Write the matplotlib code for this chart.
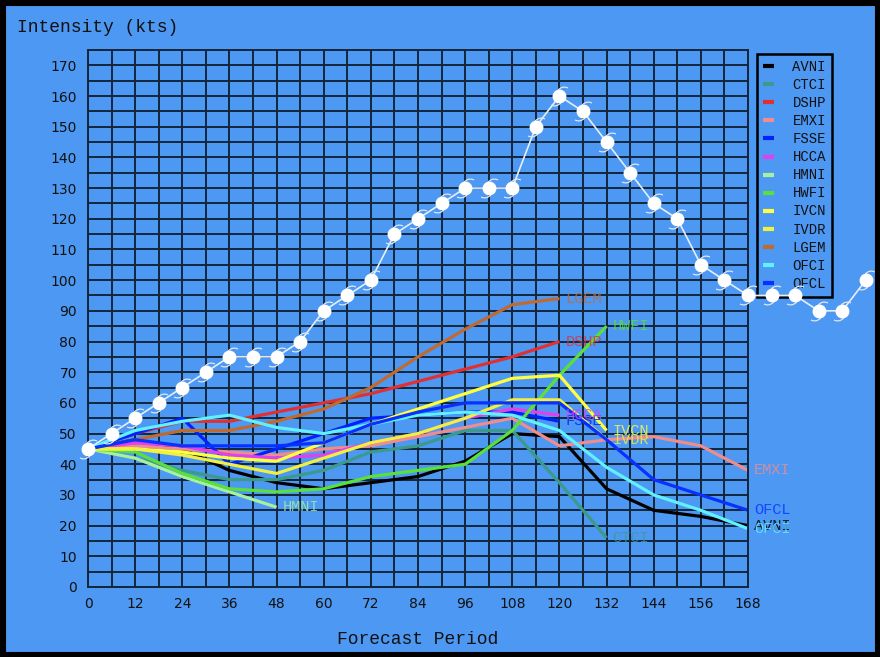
import matplotlib
matplotlib.use("Agg")
import matplotlib.pyplot as plt
from matplotlib.path import Path
from matplotlib.patches import Rectangle

# forecast hours for the model guidance (every 12 h)
hours = [0, 12, 24, 36, 48, 60, 72, 84, 96, 108, 120, 132, 144, 156, 168]

AVNI = [45, 48, 45, 38, 34, 32, 34, 36, 41, 50, 49, 32, 25, 23, 20]
CTCI = [45, 42, 38, 35, 35, 38, 44, 46, 51, 51, 34, 16]
DSHP = [45, 50, 54, 54, 57, 60, 63, 67, 71, 75, 80]
EMXI = [45, 46, 45, 44, 43, 45, 46, 49, 52, 55, 46, 48, 49, 46, 38]
FSSE = [45, 50, 55, 40, 45, 50, 55, 56, 57, 57, 54]
HCCA = [45, 47, 46, 43, 42, 43, 47, 50, 55, 58, 56]
HMNI = [45, 42, 36, 31, 26]
HWFI = [45, 44, 37, 32, 31, 32, 36, 38, 40, 51, 69, 85]
IVCN = [45, 45, 44, 42, 41, 47, 53, 58, 63, 68, 69, 51]
IVDR = [45, 45, 43, 40, 37, 42, 47, 50, 55, 61, 61, 48]
LGEM = [45, 48, 51, 51, 54, 58, 65, 75, 84, 92, 94]
OFCI = [45, 51, 54, 56, 52, 50, 53, 56, 57, 56, 51, 39, 30, 25, 19]
OFCL = [45, 48, 46, 46, 46, 47, 53, 57, 60, 60, 60, 48, 35, 30, 25]

models = ["AVNI", "CTCI", "DSHP", "EMXI", "FSSE", "HCCA", "HMNI",
          "HWFI", "IVCN", "IVDR", "LGEM", "OFCI", "OFCL"]
model_values = [AVNI, CTCI, DSHP, EMXI, FSSE, HCCA, HMNI,
                HWFI, IVCN, IVDR, LGEM, OFCI, OFCL]
model_colors = ["#000000", "#3c9a8a", "#e03030", "#f08c8c", "#0022ff",
                "#e040f0", "#a8f0a0", "#5ae03a", "#ffff40", "#f0f040",
                "#c06a30", "#60f0ff", "#0830ff"]

# best track (every 6 h)
track_hours = list(range(0, 199, 6))
track_kts = [45, 50, 55, 60, 65, 70, 75, 75, 75, 80, 90, 95, 100, 115, 120,
             125, 130, 130, 130, 150, 160, 155, 145, 135, 125, 120, 105, 100,
             95, 95, 95, 90, 90, 100]

BG = "#4d98f3"
GRID = "#13263c"
MONO = "Liberation Mono"

fig = plt.figure(figsize=(8.8, 6.57), dpi=100, facecolor=BG)
ax = fig.add_axes([88 / 880, 1 - 587 / 657, 660 / 880, 537 / 657])
ax.set_facecolor(BG)
ax.set_xlim(0, 168)
ax.set_ylim(0, 175)

ax.set_xticks(range(0, 169, 12))
ax.set_xticks(range(0, 169, 6), minor=True)
ax.set_yticks(range(0, 171, 10))
ax.set_yticks(range(0, 176, 5), minor=True)
ax.grid(which="both", color=GRID, lw=1.4)
ax.set_axisbelow(True)
ax.tick_params(which="both", length=0)
ax.tick_params(axis="y", pad=8, labelsize=10, labelcolor="#111111")
ax.tick_params(axis="x", pad=7, labelsize=10, labelcolor="#111111")
for sp in ax.spines.values():
    sp.set_color(GRID)
    sp.set_linewidth(1.4)

for name, vals, col in zip(models, model_values, model_colors):
    hx = hours[:len(vals)]
    ax.plot(hx, vals, color=col, lw=2.3, label=name, solid_capstyle="butt")
    ax.text(hx[-1] + 1.5, vals[-1], name, color=col, alpha=0.8,
            family=MONO, fontsize=11, va="center", ha="left", clip_on=False)

# hurricane symbol marker: circle plus two curled tails
tails = Path([(-0.2, 1.0), (0.5, 1.7), (1.3, 1.3),
              (0.2, -1.0), (-0.5, -1.7), (-1.3, -1.3)],
             [Path.MOVETO, Path.CURVE3, Path.CURVE3,
              Path.MOVETO, Path.CURVE3, Path.CURVE3])
ax.plot(track_hours, track_kts, color="#e6eef8", lw=1.2, clip_on=False, zorder=5)
ax.plot(track_hours, track_kts, ls="none", marker=tails, ms=16, mfc="none",
        mec="#dfe6ee", mew=0.9, clip_on=False, zorder=5)
ax.plot(track_hours, track_kts, ls="none", marker="o", ms=9, mfc="white",
        mec="white", clip_on=False, zorder=6)

leg = ax.legend(loc="upper left", bbox_to_anchor=(757 / 880, 1 - 54 / 657),
                bbox_transform=fig.transFigure, borderaxespad=0,
                prop={"family": MONO, "size": 10}, handlelength=0.8,
                handletextpad=1.3, labelspacing=0.29, borderpad=0.45,
                fancybox=False, facecolor=BG, edgecolor="black", framealpha=1)
leg.get_frame().set_linewidth(1.8)
for h in leg.get_lines():
    h.set_linewidth(3)
for t in leg.get_texts():
    t.set_color("#111111")
leg.set_zorder(4)

fig.text(17 / 880, 1 - 28 / 657, "Intensity (kts)", family=MONO, fontsize=13,
         color="#111111", va="center", ha="left")
fig.text(418 / 880, 1 - 639 / 657, "Forecast Period", family=MONO, fontsize=13,
         color="#111111", va="center", ha="center")

fig.patches.append(Rectangle((0, 0), 1, 1, transform=fig.transFigure,
                             fill=False, edgecolor="black", lw=8))

fig.savefig("out.png", dpi=100, facecolor=BG)
